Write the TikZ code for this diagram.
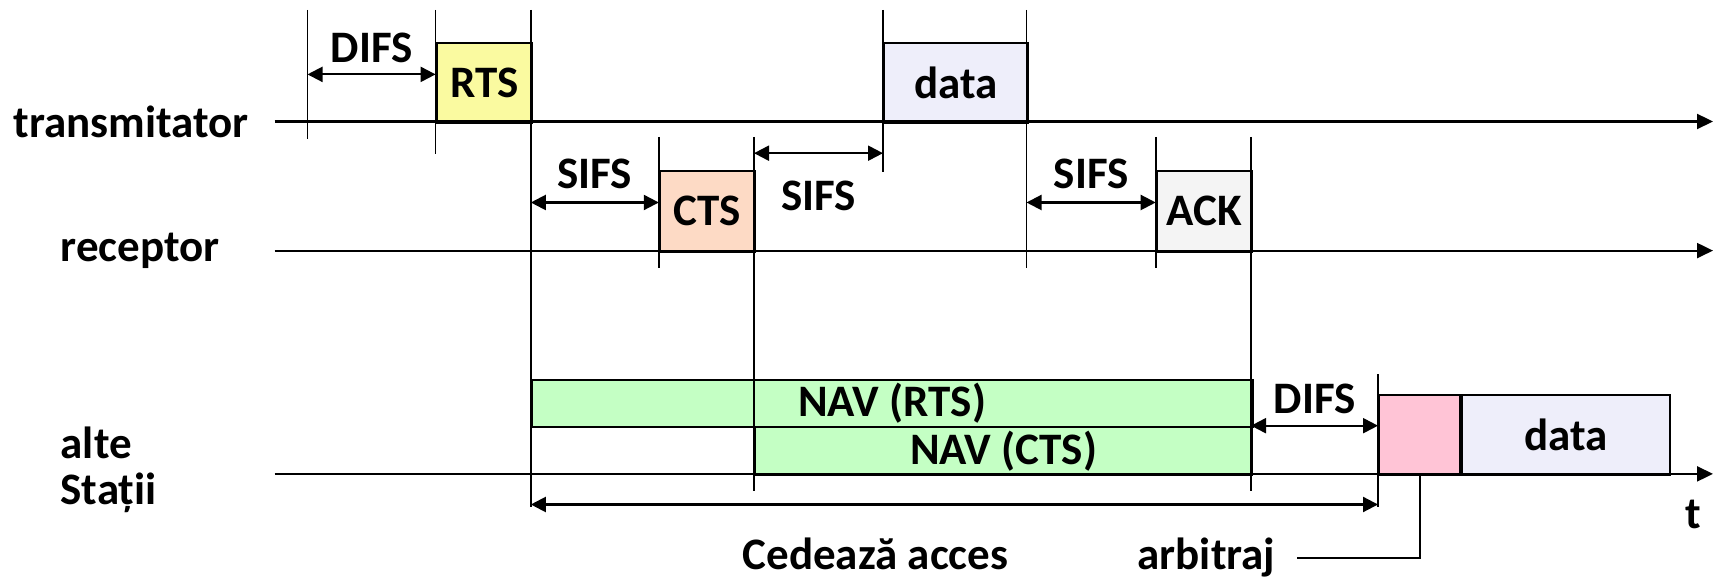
\documentclass[tikz,border=0pt]{standalone}
\usepackage{fontspec}
\setmainfont{Carlito}
\usetikzlibrary{arrows.meta, positioning}
\definecolor{rtscol}{RGB}{250,250,160}
\definecolor{ctscol}{RGB}{253,218,197}
\definecolor{datacol}{RGB}{238,238,250}
\definecolor{ackcol}{RGB}{244,244,244}
\definecolor{navcol}{RGB}{196,255,196}
\definecolor{arbcol}{RGB}{255,196,214}

\begin{document}
\begin{tikzpicture}[
        x=0.01cm, y=-0.01cm,
        font=\fontsize{12.8}{14}\selectfont\bfseries,
        box/.style={draw, line width=0.6pt, anchor=north west, inner sep=0pt},
        axis/.style={-{Triangle[length=1.6mm, width=1.5mm]}, line width=0.6pt},
        tick/.style={line width=0.45pt},
        span/.style={{Triangle[length=1.5mm, width=1.5mm]}-{Triangle[length=1.5mm, width=1.5mm]}, line width=0.6pt},
        lbl/.style={inner sep=0pt}
    ]
        \useasboundingbox (0,0) rectangle (1716,583);

        \node[box, fill=rtscol, minimum width=0.952cm, minimum height=0.80cm] (rts) at (435.6,41.6) {RTS};
        \node[box, fill=datacol, minimum width=1.435cm, minimum height=0.80cm] (data) at (883,41.6) {data};
        \node[box, fill=ctscol, minimum width=0.952cm, minimum height=0.81cm] (cts) at (658.8,169.6) {CTS};
        \node[box, fill=ackcol, minimum width=0.953cm, minimum height=0.81cm] (ack) at (1155.7,169.6) {ACK};
        \node[box, fill=navcol, minimum width=7.202cm, minimum height=0.47cm] (navrts) at (530.8,378.7) {NAV (RTS)};
        \node[box, fill=navcol, minimum width=4.97cm, minimum height=0.482cm] (navcts) at (754,425.7) {NAV (CTS)};
        \node[box, fill=arbcol, minimum width=0.81cm, minimum height=0.80cm] (arb) at (1378,394) {};
        \node[box, fill=datacol, minimum width=2.08cm, minimum height=0.80cm, right=0pt of arb.north east, anchor=north west] (data2) {data};

        \draw[tick] (307.5,10) -- (307.5,139);
        \draw[tick] (435.6,10) -- (435.6,154.3);
        \draw[tick] (530.8,10) -- (530.8,506.7);
        \draw[tick] (658.8,136.8) -- (658.8,268);
        \draw[tick] (754,136.8) -- (754,491.4);
        \draw[tick] (883,10) -- (883,171.8);
        \draw[tick] (1026.5,10) -- (1026.5,268);
        \draw[tick] (1155.7,136.8) -- (1155.7,268);
        \draw[tick] (1251,136.8) -- (1251,491.4);
        \draw[tick] (1378,374.3) -- (1378,506.7);

        \node[lbl, anchor=west] (tx) at (13,121.5) {transmitator};
        \node[lbl, anchor=west] (rx) at (60,250.6) {receptor};
        \node[lbl, anchor=west] (alte) at (60,443) {alte};
        \node[lbl, anchor=west] (statii) at (60,492.5) {Stații};

        \coordinate (txa) at (274.7,121.5);
        \coordinate (txb) at (1713,121.5);
        \coordinate (rxa) at (274.7,250.6);
        \coordinate (rxb) at (1713,250.6);
        \coordinate (sta) at (274.7,473.9);
        \coordinate (stb) at (1713,473.9);
        \draw[axis] (txa) -- (txb);
        \draw[axis] (rxa) -- (rxb);
        \draw[axis] (sta) -- (stb);

        \coordinate (difs1a) at (307.5,74.4);
        \coordinate (difs1b) at (435.6,74.4);
        \coordinate (sifs1a) at (530.8,202.5);
        \coordinate (sifs1b) at (658.8,202.5);
        \coordinate (sifs2a) at (754,153.2);
        \coordinate (sifs2b) at (883,153.2);
        \coordinate (sifs3a) at (1026.5,202.5);
        \coordinate (sifs3b) at (1155.7,202.5);
        \coordinate (difs2a) at (1251,425.7);
        \coordinate (difs2b) at (1378,425.7);
        \coordinate (ceda) at (530.8,504.5);
        \coordinate (cedb) at (1378,504.5);

        \draw[span] (difs1a) -- node[lbl, above=3pt] (difs1) {DIFS} (difs1b);
        \draw[span] (sifs1a) -- node[lbl, above=3.5pt] (sifs1) {SIFS} (sifs1b);
        \draw[span] (sifs2a) -- node[lbl, below=7.5pt] (sifs2) {SIFS} (sifs2b);
        \draw[span] (sifs3a) -- node[lbl, above=3.5pt] (sifs3) {SIFS} (sifs3b);
        \draw[span] (difs2a) -- node[lbl, above=3pt] (difs2) {DIFS} (difs2b);
        \draw[span] (ceda) -- (cedb);

        \node[lbl] (cedeaza) at (875.5,553.8) {Cedează acces};
        \node[lbl] (t) at (1693,514) {t};
        \node[lbl, anchor=east] (arbitraj) at (1276,558) {arbitraj};
        \draw[tick, line width=0.6pt] (arb.south) -- (arb.south |- arbitraj.east) -- ([xshift=6pt]arbitraj.east);
    \end{tikzpicture}
\end{document}
